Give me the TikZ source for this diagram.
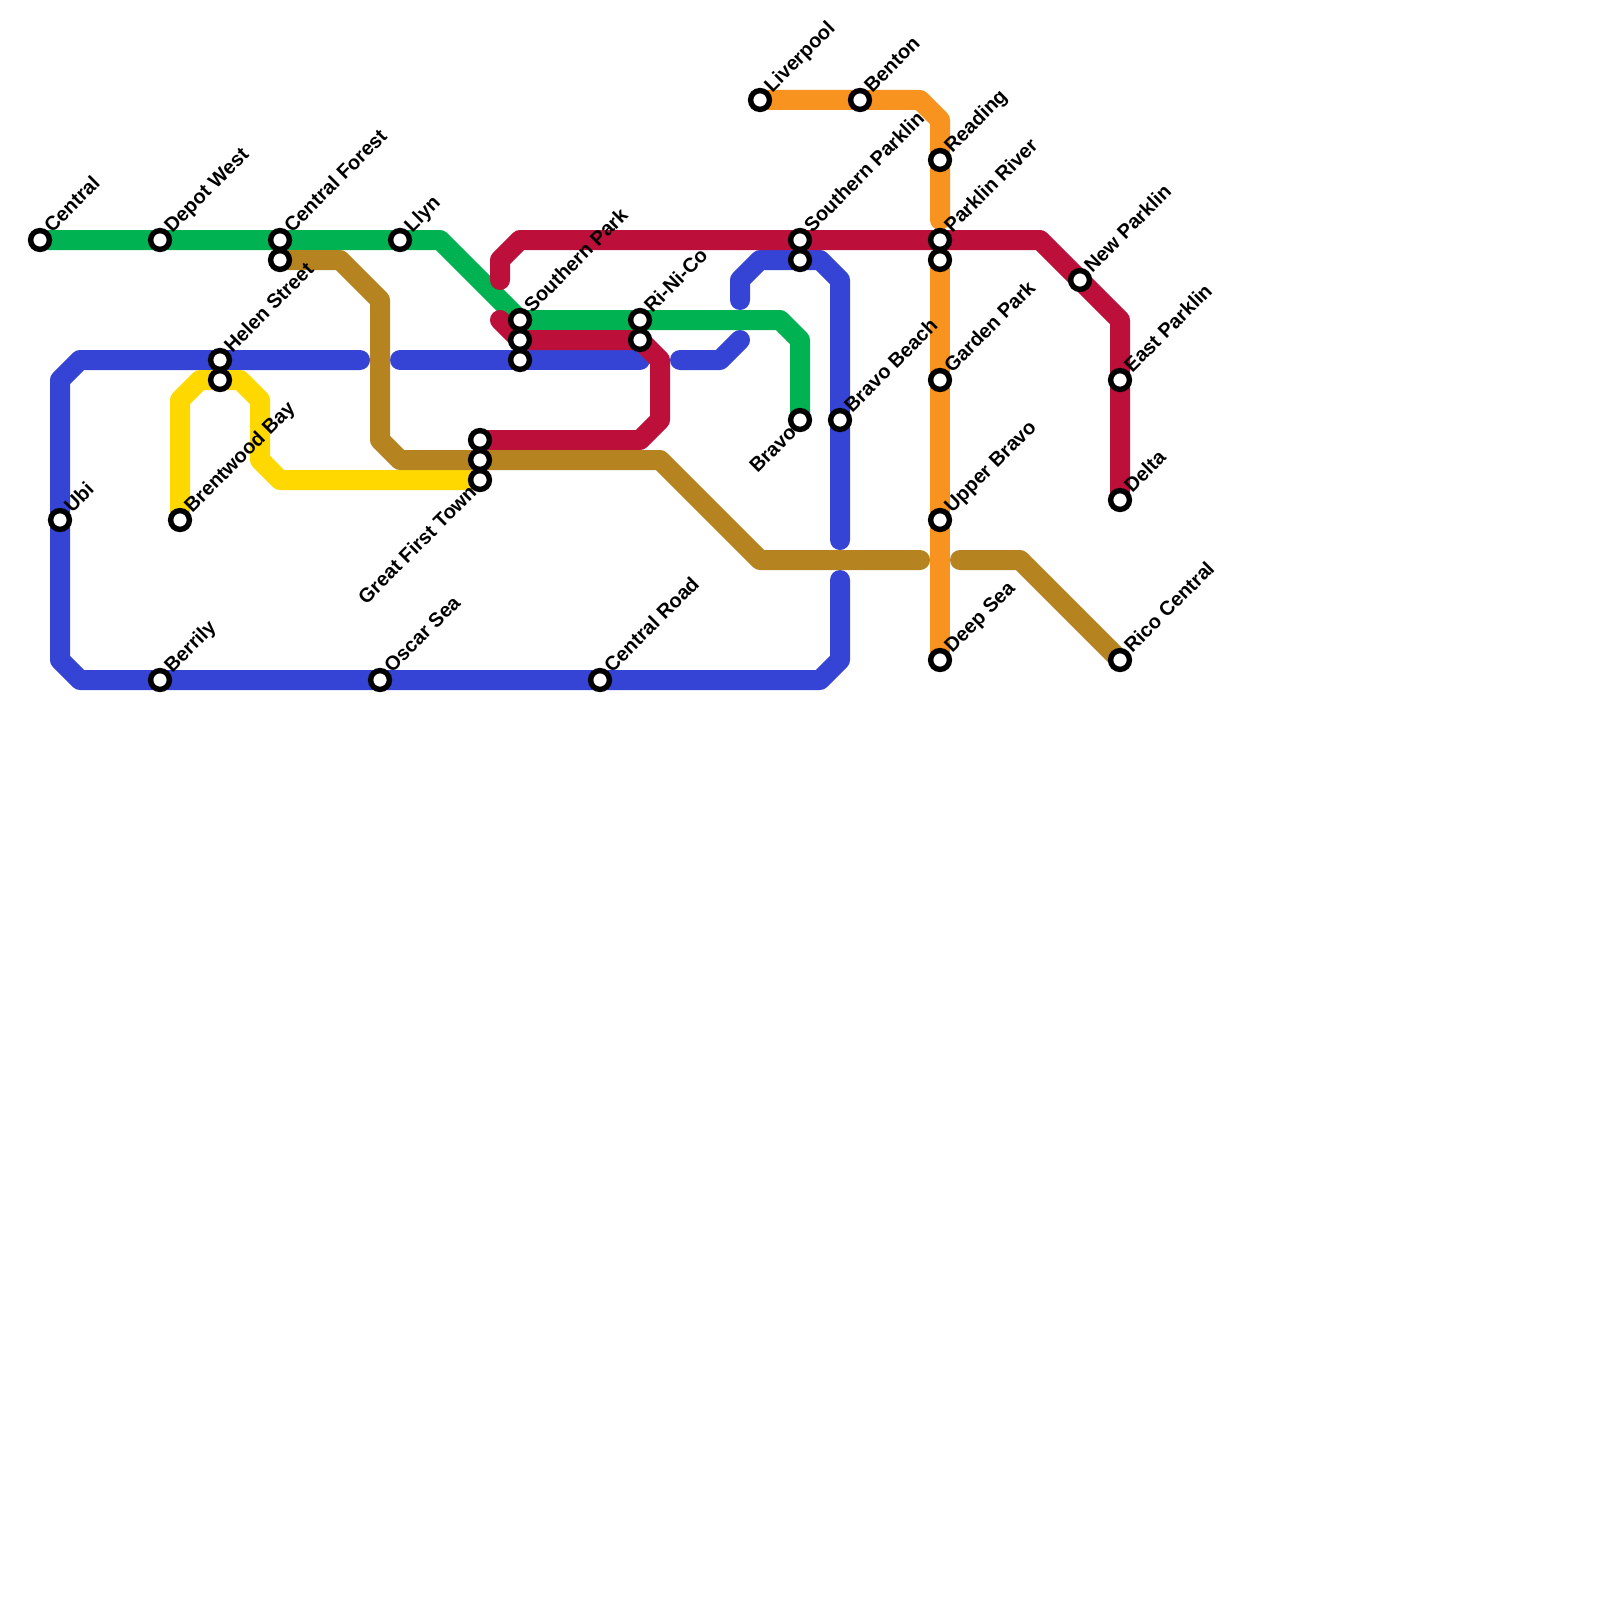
\documentclass[tikz,border=0pt]{standalone}
\usepackage{fontspec}
\setmainfont{Liberation Sans}
\definecolor{cGreen}{HTML}{00B251}
\definecolor{cBrown}{HTML}{B58320}
\definecolor{cBlue}{HTML}{3644D6}
\definecolor{cRed}{HTML}{BC0F39}
\definecolor{cYellow}{HTML}{FFD800}
\definecolor{cOrange}{HTML}{F7931E}
\usetikzlibrary{backgrounds}
\tikzset{
  node-stn/.style={circle,draw=black,fill=white,line width=2.7pt,
    minimum size=9.4pt,inner sep=0pt},
  node-lbl/.style={rotate=45,anchor=base west,inner sep=0pt,xshift=6.5pt,yshift=-2pt,
    font=\bfseries\fontsize{10}{10}\selectfont},
  node-lbl-left/.style={rotate=45,anchor=base east,inner sep=0pt,xshift=-5.5pt,yshift=-4pt,
    font=\bfseries\fontsize{10}{10}\selectfont},
  track/.style={line width=10pt,line cap=round,line join=round},
  track-green/.style={track,draw=cGreen},
  track-brown/.style={track,draw=cBrown},
  track-blue/.style={track,draw=cBlue},
  track-red/.style={track,draw=cRed},
  track-yellow/.style={track,draw=cYellow},
  track-orange/.style={track,draw=cOrange},
}
\begin{document}
\begin{tikzpicture}[x=0.5pt,y=-0.5pt]
  \useasboundingbox (0,0) rectangle (1600,1600);
  % stations
  \node[node-stn] (central)   at (40,240)   {};
  \node[node-stn] (depot)     at (160,240)  {};
  \node[node-stn] (forest)    at (280,240)  {};
  \node[node-stn] (forest2)   at (280,260)  {};
  \node[node-stn] (llyn)      at (400,240)  {};
  \node[node-stn] (helen)     at (220,360)  {};
  \node[node-stn] (helen2)    at (220,380)  {};
  \node[node-stn] (ubi)       at (60,520)   {};
  \node[node-stn] (brentwood) at (180,520)  {};
  \node[node-stn] (town1)     at (480,440)  {};
  \node[node-stn] (town2)     at (480,460)  {};
  \node[node-stn] (town)      at (480,480)  {};
  \node[node-stn] (berrily)   at (160,680)  {};
  \node[node-stn] (oscar)     at (380,680)  {};
  \node[node-stn] (croad)     at (600,680)  {};
  \node[node-stn] (spark)     at (520,320)  {};
  \node[node-stn] (spark2)    at (520,340)  {};
  \node[node-stn] (spark3)    at (520,360)  {};
  \node[node-stn] (rinico)    at (640,320)  {};
  \node[node-stn] (rinico2)   at (640,340)  {};
  \node[node-stn] (sparklin)  at (800,240)  {};
  \node[node-stn] (sparklin2) at (800,260)  {};
  \node[node-stn] (bravo)     at (800,420)  {};
  \node[node-stn] (bbeach)    at (840,420)  {};
  \node[node-stn] (liverpool) at (760,100)  {};
  \node[node-stn] (benton)    at (860,100)  {};
  \node[node-stn] (reading)   at (940,160)  {};
  \node[node-stn] (river)     at (940,240)  {};
  \node[node-stn] (river2)    at (940,260)  {};
  \node[node-stn] (garden)    at (940,380)  {};
  \node[node-stn] (upper)     at (940,520)  {};
  \node[node-stn] (deep)      at (940,660)  {};
  \node[node-stn] (newp)      at (1080,280) {};
  \node[node-stn] (eastp)     at (1120,380) {};
  \node[node-stn] (delta)     at (1120,500) {};
  \node[node-stn] (rico)      at (1120,660) {};
  % labels
  \node[node-lbl] (central-t)   at (central)   {Central};
  \node[node-lbl] (depot-t)     at (depot)     {Depot West};
  \node[node-lbl] (forest-t)    at (forest)    {Central Forest};
  \node[node-lbl] (llyn-t)      at (llyn)      {Llyn};
  \node[node-lbl] (helen-t)     at (helen)     {Helen Street};
  \node[node-lbl] (ubi-t)       at (ubi)       {Ubi};
  \node[node-lbl] (brentwood-t) at (brentwood) {Brentwood Bay};
  \node[node-lbl-left] (town-t) at (town)      {Great First Town};
  \node[node-lbl] (berrily-t)   at (berrily)   {Berrily};
  \node[node-lbl] (oscar-t)     at (oscar)     {Oscar Sea};
  \node[node-lbl] (croad-t)     at (croad)     {Central Road};
  \node[node-lbl] (spark-t)     at (spark)     {Southern Park};
  \node[node-lbl] (rinico-t)    at (rinico)    {Ri-Ni-Co};
  \node[node-lbl] (sparklin-t)  at (sparklin)  {Southern Parklin};
  \node[node-lbl-left] (bravo-t) at (bravo)    {Bravo};
  \node[node-lbl] (bbeach-t)    at (bbeach)    {Bravo Beach};
  \node[node-lbl] (liverpool-t) at (liverpool) {Liverpool};
  \node[node-lbl] (benton-t)    at (benton)    {Benton};
  \node[node-lbl] (reading-t)   at (reading)   {Reading};
  \node[node-lbl] (river-t)     at (river)     {Parklin River};
  \node[node-lbl] (garden-t)    at (garden)    {Garden Park};
  \node[node-lbl] (upper-t)     at (upper)     {Upper Bravo};
  \node[node-lbl] (deep-t)      at (deep)      {Deep Sea};
  \node[node-lbl] (newp-t)      at (newp)      {New Parklin};
  \node[node-lbl] (eastp-t)     at (eastp)     {East Parklin};
  \node[node-lbl] (delta-t)     at (delta)     {Delta};
  \node[node-lbl] (rico-t)      at (rico)      {Rico Central};
  % free line ends
  \coordinate (blue-a) at (360,360);
  \coordinate (blue-b) at (840,580);
  \coordinate (blue-c) at (400,360);
  \coordinate (blue-d) at (640,360);
  \coordinate (blue-e) at (680,360);
  \coordinate (blue-f) at (740,340);
  \coordinate (blue-g) at (740,300);
  \coordinate (blue-h) at (840,540);
  \coordinate (red-a)  at (500,280);
  \coordinate (red-b)  at (500,320);
  \coordinate (brown-a) at (920,560);
  \coordinate (brown-b) at (960,560);
  \coordinate (orange-a) at (940,220);
  % lines
  \begin{scope}[on background layer]
    \draw[track-blue] (blue-a) -- (helen.center) -- (80,360) -- (60,380) -- (ubi.center) -- (60,660)
      -- (80,680) -- (berrily.center) -- (oscar.center) -- (croad.center) -- (820,680) -- (840,660) -- (blue-b);
    \draw[track-blue] (blue-c) -- (spark3.center) -- (blue-d);
    \draw[track-blue] (blue-e) -- (720,360) -- (blue-f);
    \draw[track-blue] (blue-g) -- (740,280) -- (760,260) -- (sparklin2.center) -- (820,260) -- (840,280)
      -- (bbeach.center) -- (blue-h);
    \draw[track-yellow] (brentwood.center) -- (180,400) -- (200,380) -- (helen2.center) -- (240,380)
      -- (260,400) -- (260,460) -- (280,480) -- (town.center);
    \draw[track-orange] (liverpool.center) -- (benton.center) -- (920,100) -- (940,120) -- (reading.center)
      -- (orange-a);
    \draw[track-orange] (river2.center) -- (garden.center) -- (upper.center) -- (deep.center);
    \draw[track-green] (central.center) -- (depot.center) -- (forest.center) -- (llyn.center) -- (440,240)
      -- (spark.center) -- (rinico.center) -- (780,320) -- (800,340) -- (bravo.center);
    \draw[track-red] (red-a) -- (500,260) -- (520,240) -- (sparklin.center) -- (river.center) -- (1040,240)
      -- (newp.center) -- (1120,320) -- (eastp.center) -- (delta.center);
    \draw[track-red] (red-b) -- (spark2.center) -- (rinico2.center) -- (660,360) -- (660,420) -- (640,440)
      -- (town1.center);
    \draw[track-brown] (forest2.center) -- (340,260) -- (380,300) -- (380,440) -- (400,460) -- (town2.center)
      -- (660,460) -- (760,560) -- (brown-a);
    \draw[track-brown] (brown-b) -- (1020,560) -- (rico.center);
  \end{scope}
\end{tikzpicture}
\end{document}
